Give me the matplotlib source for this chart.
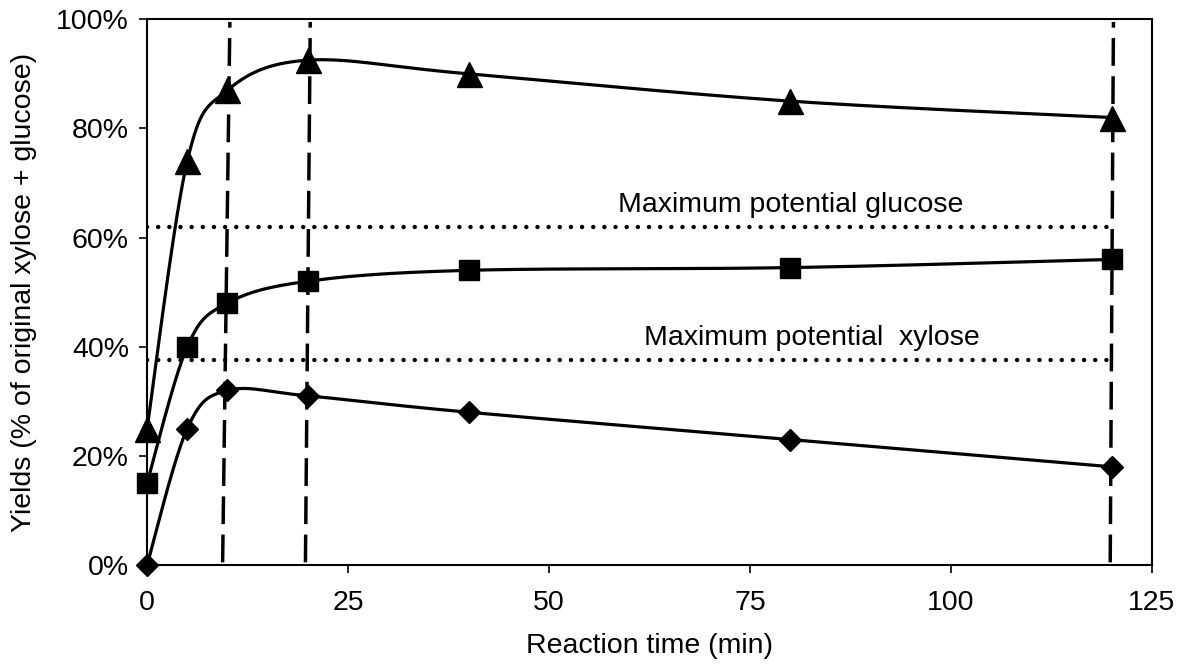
import numpy as np
import matplotlib.pyplot as plt
from matplotlib.ticker import PercentFormatter

plt.rcParams['font.family'] = ['Liberation Sans', 'DejaVu Sans']

# data
time_min = [0, 5, 10, 20, 40, 80, 120]
total_yield = [25, 74, 87, 92.5, 90, 85, 82]
glucose_yield = [15, 40, 48, 52, 54, 54.5, 56]
xylose_yield = [0, 25, 32, 31, 28, 23, 18]

max_glucose = 62
max_xylose = 37.5
max_line_x = [0, 120]

guide_x_bottom = [9.4, 19.7, 119.8]
guide_x_top = [10.3, 20.3, 120.2]
guide_y = [0.5, 99.5]


def smooth(ax, xs, ys, n=40):
    # Excel-style smoothed line: Catmull-Rom bezier in screen space
    pts = ax.transData.transform(np.column_stack([xs, ys]))
    p = np.vstack([pts[0], pts, pts[-1]])
    out = []
    t = np.linspace(0, 1, n)[:, None]
    for i in range(1, len(p) - 2):
        p0, p1, p2, p3 = p[i - 1], p[i], p[i + 1], p[i + 2]
        c1 = p1 + (p2 - p0) / 6
        c2 = p2 - (p3 - p1) / 6
        seg = ((1 - t) ** 3) * p1 + 3 * ((1 - t) ** 2) * t * c1 + 3 * (1 - t) * t ** 2 * c2 + t ** 3 * p2
        out.append(seg)
    out = np.vstack(out)
    return ax.transData.inverted().transform(out)


fig = plt.figure(figsize=(11.84, 6.64), dpi=100)
ax = fig.add_axes([0.1242, 0.149, 0.8488, 0.822])
ax.set_xlim(0, 125)
ax.set_ylim(0, 100)

lw = 2.3
for ys, mk, ms in [(total_yield, '^', 18), (glucose_yield, 's', 15), (xylose_yield, 'D', 11.5)]:
    curve = smooth(ax, time_min, ys)
    ax.plot(curve[:, 0], curve[:, 1], color='black', lw=lw, zorder=3, clip_on=False)
    ax.plot(time_min, ys, linestyle='none', marker=mk, ms=ms, color='black', zorder=4, clip_on=False)

for yv in [max_glucose, max_xylose]:
    ax.plot(max_line_x, [yv, yv], color='black', lw=3.2, dashes=(0.01, 2.5),
            dash_capstyle='round', zorder=2)

for xb, xt in zip(guide_x_bottom, guide_x_top):
    ax.plot([xb, xt], guide_y, color='black', lw=2.5, dashes=(8, 3), zorder=2, clip_on=False)

ax.text(80.1, 65.9, 'Maximum potential glucose', ha='center', va='center', fontsize=20.5)
ax.text(82.7, 41.6, 'Maximum potential  xylose', ha='center', va='center', fontsize=20.5)

ax.set_xticks([0, 25, 50, 75, 100, 125])
ax.set_yticks([0, 20, 40, 60, 80, 100])
ax.yaxis.set_major_formatter(PercentFormatter(decimals=0))
ax.tick_params(direction='out', length=6, width=1.2, labelsize=20.5)
ax.tick_params(axis='x', pad=12)
ax.tick_params(axis='y', pad=7)
for s in ax.spines.values():
    s.set_linewidth(1.5)

ax.set_xlabel('Reaction time (min)', fontsize=20.5, labelpad=12)
ax.set_ylabel('Yields (% of original xylose + glucose)', fontsize=20.5, labelpad=14)

plt.savefig('out.png')
